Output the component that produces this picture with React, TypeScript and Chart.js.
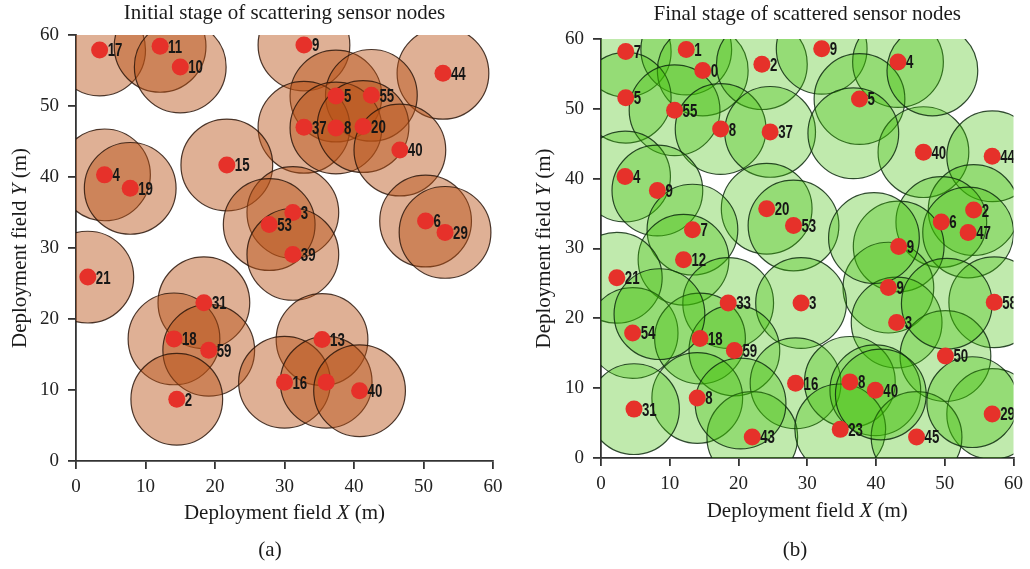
import React, { useEffect, useRef } from "react";
import { Chart, registerables } from "chart.js";

Chart.register(...registerables);

// ---------- data ----------
const SENSOR_RANGE = 6.6; // sensing radius, in field metres
const AXIS_MIN = 0;
const AXIS_MAX = 60;
const AXIS_STEP = 10;

// (a) initial stage
const initialX = [3.4, 12.1, 15.0, 32.8, 52.8, 37.4, 42.5, 32.8, 37.4, 41.3, 46.6, 4.1, 7.8, 21.7, 31.2, 27.8, 50.3, 53.1, 31.2, 1.7, 18.4, 14.1, 19.1, 14.5, 35.4, 30.0, 36.0, 40.8];
const initialY = [57.9, 58.4, 55.5, 58.6, 54.6, 51.4, 51.5, 47.0, 46.9, 47.1, 43.8, 40.3, 38.4, 41.7, 35.0, 33.3, 33.8, 32.2, 29.1, 25.9, 22.3, 17.2, 15.6, 8.7, 17.1, 11.1, 11.1, 9.9];
const initialLabels = ["17", "11", "10", "9", "44", "5", "55", "37", "8", "20", "40", "4", "19", "15", "3", "53", "6", "29", "39", "21", "31", "18", "59", "2", "13", "16", "", "40"];

// (b) final stage
const finalX = [3.6, 12.4, 14.8, 23.4, 32.1, 43.2, 3.6, 10.7, 17.4, 24.6, 37.6, 46.9, 56.9, 3.5, 8.2, 24.1, 28.0, 13.3, 54.2, 49.5, 53.4, 43.3, 12.0, 2.3, 41.8, 18.5, 29.1, 57.2, 43.0, 4.6, 14.4, 19.4, 50.1, 28.3, 36.2, 39.9, 14.0, 4.8, 56.9, 22.0, 34.8, 45.9];
const finalY = [58.2, 58.5, 55.5, 56.4, 58.6, 56.7, 51.6, 49.8, 47.1, 46.7, 51.4, 43.8, 43.2, 40.3, 38.3, 35.7, 33.3, 32.7, 35.5, 33.8, 32.3, 30.3, 28.4, 25.8, 24.4, 22.2, 22.2, 22.3, 19.4, 17.9, 17.1, 15.4, 14.6, 10.7, 10.9, 9.7, 8.6, 7.0, 6.3, 3.0, 4.1, 3.0];
const finalLabels = ["7", "1", "0", "2", "9", "4", "5", "55", "8", "37", "5", "40", "44", "4", "9", "20", "53", "7", "2", "6", "47", "9", "12", "21", "9", "33", "3", "58", "3", "54", "18", "59", "50", "16", "8", "40", "8", "31", "29", "43", "23", "45"];
// coverage circles visible in (b) whose node marker is not shown
const finalExtraX = [48.2, 36.7, 39.7, 8.5, 20.3, 50.3, 54.0, 40.7];
const finalExtraY = [55.5, 46.5, 31.5, 20.6, 7.8, 22.1, 8.0, 9.1];

// ---------- helpers ----------
const SERIF = '"Liberation Serif", "Times New Roman", serif';
const LABEL_FONT = 'bold 17px "Liberation Sans", Arial, sans-serif';

type Run = { t: string; i?: boolean };

function drawRuns(ctx: CanvasRenderingContext2D, runs: Run[], size: number, x: number, y: number, rotate: boolean) {
  ctx.save();
  ctx.translate(x, y);
  if (rotate) ctx.rotate(-Math.PI / 2);
  ctx.textBaseline = "alphabetic";
  ctx.textAlign = "left";
  ctx.fillStyle = "#1a1a1a";
  const fonts = runs.map((r) => `${r.i ? "italic " : ""}${size}px ${SERIF}`);
  let total = 0;
  const widths = runs.map((r, k) => {
    ctx.font = fonts[k];
    const w = ctx.measureText(r.t).width;
    total += w;
    return w;
  });
  let cx = -total / 2;
  runs.forEach((r, k) => {
    ctx.font = fonts[k];
    ctx.fillText(r.t, cx, 0);
    cx += widths[k];
  });
  ctx.restore();
}

type PanelProps = {
  left: number;
  xs: number[];
  ys: number[];
  labels: string[];
  ex: number[];
  ey: number[];
  fill: string;
  stroke: string;
  title: string;
  caption: string;
  captionX: number;
  yTitleX: number;
  titleBase: number;
  xTitleBase: number;
  yWidth: number;
  padRight: number;
  padTop: number;
  padBottom: number;
};

const W = 515;
const H = 569;

function Panel(p: PanelProps) {
  const ref = useRef<HTMLCanvasElement>(null);
  useEffect(() => {
    if (!ref.current) return;
    const circleData = [
      ...p.xs.map((x, i) => ({ x, y: p.ys[i] })),
      ...p.ex.map((x, i) => ({ x, y: p.ey[i] })),
    ];
    const dotData = p.xs.map((x, i) => ({ x, y: p.ys[i] }));
    const radiusPx = (c: any) => {
      const s = c.chart.scales.x;
      return Math.abs(s.getPixelForValue(SENSOR_RANGE) - s.getPixelForValue(0));
    };

    const labelPlugin = {
      id: "nodeLabels",
      afterDatasetsDraw(chart: any) {
        const ctx: CanvasRenderingContext2D = chart.ctx;
        const a = chart.chartArea;
        const meta = chart.getDatasetMeta(1);
        ctx.save();
        ctx.beginPath();
        ctx.rect(a.left, a.top, a.right - a.left, a.bottom - a.top);
        ctx.clip();
        ctx.font = LABEL_FONT;
        ctx.fillStyle = "#161616";
        ctx.textAlign = "left";
        ctx.textBaseline = "middle";
        meta.data.forEach((pt: any, i: number) => {
          const t = p.labels[i];
          if (!t) return;
          ctx.save();
          ctx.translate(pt.x + 8, pt.y + 1.5);
          ctx.scale(0.78, 1.05);
          ctx.fillText(t, 0, 0);
          ctx.restore();
        });
        ctx.restore();
      },
    };

    const textPlugin = {
      id: "panelText",
      afterDraw(chart: any) {
        const ctx: CanvasRenderingContext2D = chart.ctx;
        const a = chart.chartArea;
        const cx = (a.left + a.right) / 2;
        const cy = (a.top + a.bottom) / 2;
        drawRuns(ctx, [{ t: p.title }], 21, cx, p.titleBase, false);
        drawRuns(ctx, [{ t: "Deployment field " }, { t: "X", i: true }, { t: " (m)" }], 21, cx, p.xTitleBase, false);
        drawRuns(ctx, [{ t: "Deployment field " }, { t: "Y", i: true }, { t: " (m)" }], 21, p.yTitleX, cy, true);
        drawRuns(ctx, [{ t: p.caption }], 21, p.captionX, 556, false);
      },
    };

    const axisCommon = {
      type: "linear" as const,
      min: AXIS_MIN,
      max: AXIS_MAX,
      ticks: { stepSize: AXIS_STEP, padding: 9, color: "#222", font: { family: SERIF, size: 19 } },
      grid: { drawOnChartArea: false, drawTicks: true, tickLength: 8, color: "#333", lineWidth: 1.8 },
      border: { display: true, color: "#333", width: 1.8 },
    };

    const chart = new Chart(ref.current, {
      type: "scatter",
      data: {
        datasets: [
          {
            data: circleData,
            pointRadius: radiusPx,
            pointHoverRadius: radiusPx,
            backgroundColor: p.fill,
            borderColor: p.stroke,
            borderWidth: 1.2,
            hoverBorderWidth: 1.2,
            clip: 0,
            order: 2,
          },
          {
            data: dotData,
            pointRadius: 8.5,
            pointHoverRadius: 8.5,
            backgroundColor: "#e6312a",
            borderWidth: 0,
            clip: 0,
            order: 1,
          },
        ],
      },
      options: {
        responsive: false,
        animation: false,
        events: [],
        layout: { padding: { left: 0, right: p.padRight, top: p.padTop, bottom: p.padBottom } },
        plugins: { legend: { display: false }, tooltip: { enabled: false }, title: { display: false } },
        scales: {
          x: {
            ...axisCommon,
            ticks: { ...axisCommon.ticks, padding: 7 },
            afterFit: (s: any) => {
              s.height = 40;
            },
          },
          y: {
            ...axisCommon,
            afterFit: (s: any) => {
              s.width = p.yWidth;
            },
          },
        },
      } as any,
      plugins: [labelPlugin, textPlugin],
    });
    return () => chart.destroy();
  }, []);

  return (
    <canvas
      ref={ref}
      width={W}
      height={H}
      style={{ position: "absolute", left: p.left, top: 0, width: W, height: H, display: "block" }}
    />
  );
}

export default function App() {
  return (
    <div style={{ position: "absolute", left: 0, top: 0, width: 1030, height: 569, background: "#fff", overflow: "hidden" }}>
      <Panel
        left={0}
        xs={initialX}
        ys={initialY}
        labels={initialLabels}
        ex={[]}
        ey={[]}
        fill="rgba(185, 80, 20, 0.45)"
        stroke="rgba(45, 22, 10, 0.85)"
        title="Initial stage of scattering sensor nodes"
        caption="(a)"
        captionX={270}
        yTitleX={26}
        titleBase={19}
        xTitleBase={519}
        yWidth={76}
        padRight={22}
        padTop={35}
        padBottom={68}
      />
      <Panel
        left={515}
        xs={finalX}
        ys={finalY}
        labels={finalLabels}
        ex={finalExtraX}
        ey={finalExtraY}
        fill="rgba(60, 190, 0, 0.32)"
        stroke="rgba(15, 45, 15, 0.85)"
        title="Final stage of scattered sensor nodes"
        caption="(b)"
        captionX={280}
        yTitleX={35}
        titleBase={20}
        xTitleBase={517}
        yWidth={86}
        padRight={11}
        padTop={39}
        padBottom={71}
      />
    </div>
  );
}
